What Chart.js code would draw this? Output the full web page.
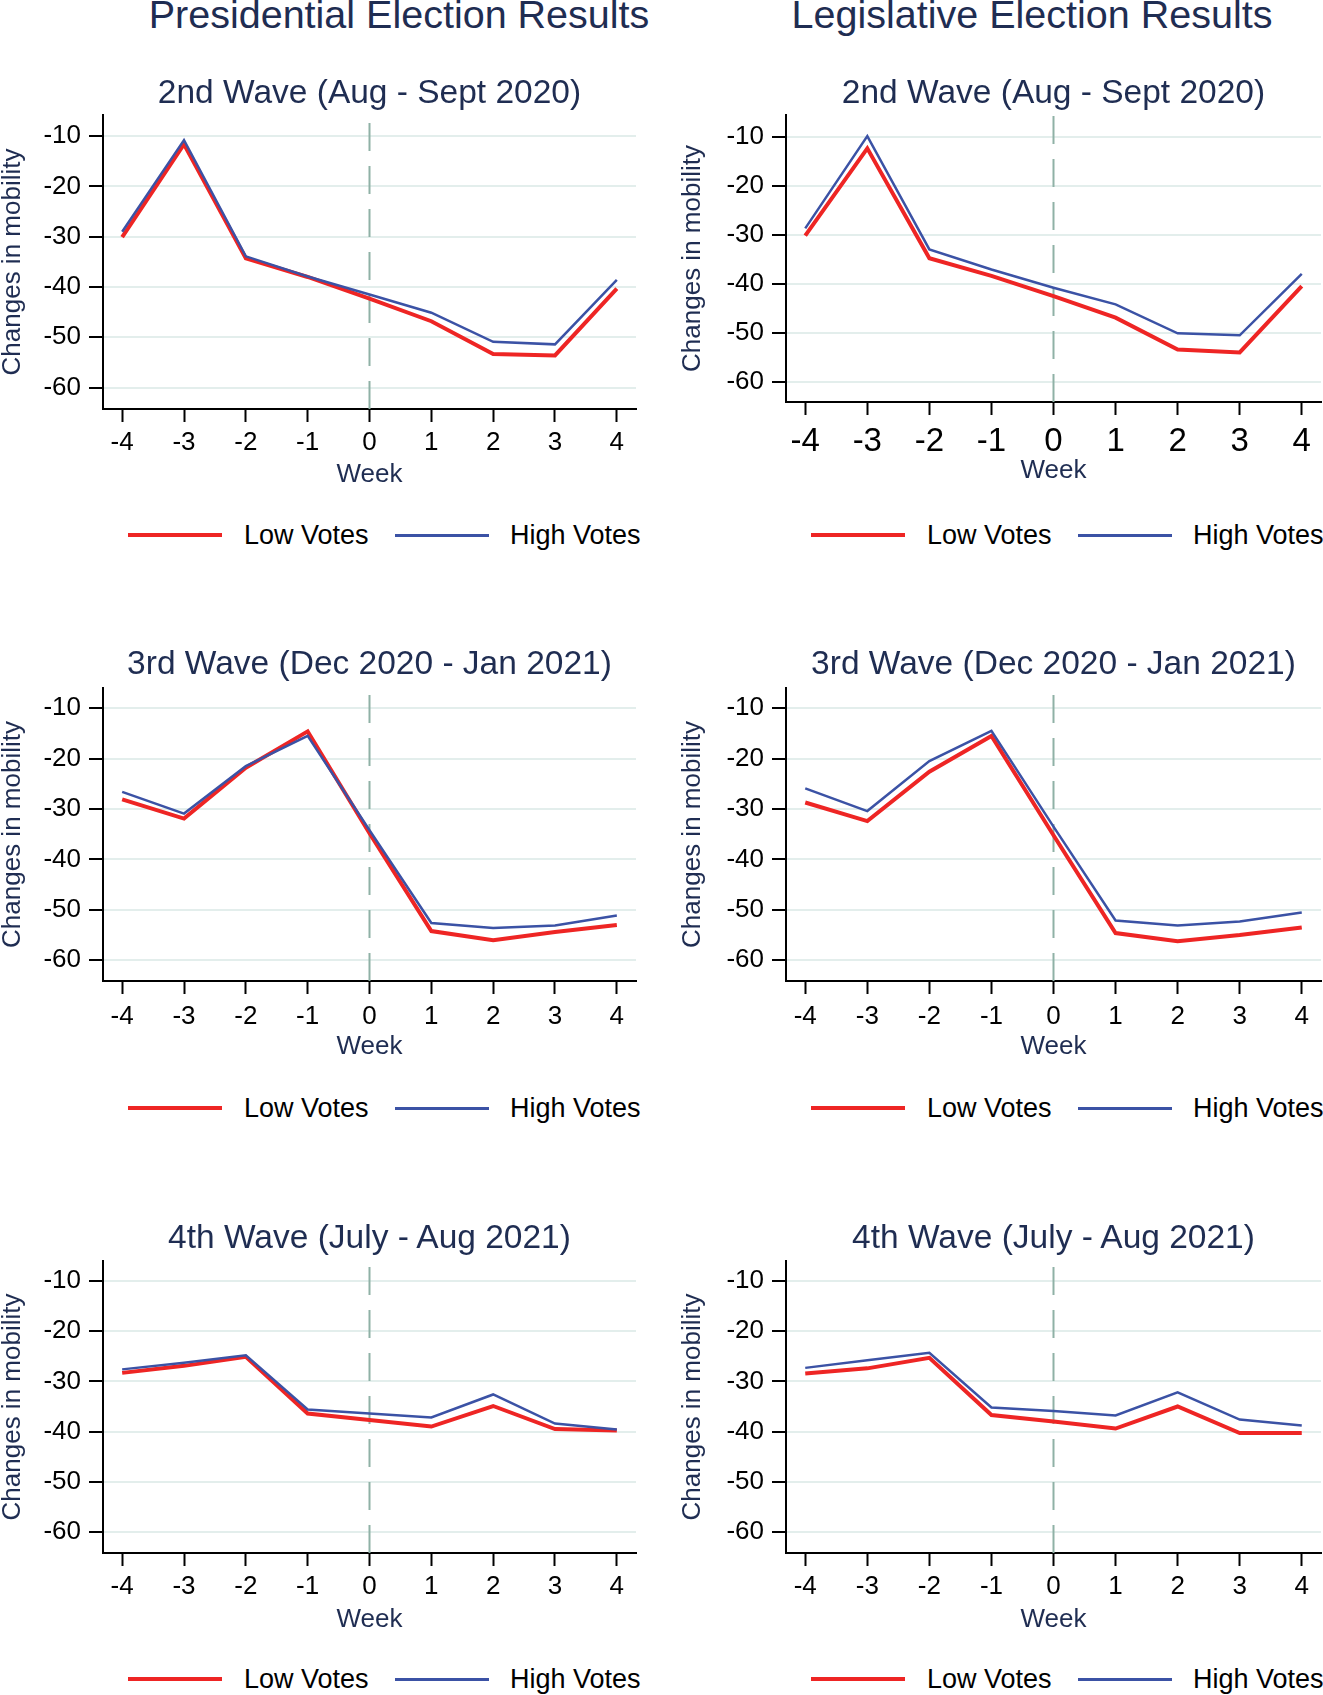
<!DOCTYPE html>
<html><head><meta charset="utf-8">
<script src="https://cdn.jsdelivr.net/npm/chart.js@4.4.1/dist/chart.umd.min.js"></script>
<style>
html,body{margin:0;padding:0;background:#fff;width:1323px;height:1695px;overflow:hidden;}
body{position:relative;font-family:"Liberation Sans",Arial,Helvetica,sans-serif;}
.t{position:absolute;white-space:nowrap;line-height:1;transform:translate(-50%,-50%);color:#1f2d52;z-index:2;}
.lt{position:absolute;white-space:nowrap;line-height:1;transform:translateY(-50%);font-size:27px;color:#000;z-index:2;}
.ll{position:absolute;z-index:2;}
canvas{position:absolute;z-index:1;}
</style></head><body>
<script>
// ---------- data ----------
const weeks = [-4, -3, -2, -1, 0, 1, 2, 3, 4];
const yTicks = [-60, -50, -40, -30, -20, -10];

const presW2Low  = [-30.1, -11.6, -34.3, -38.0, -42.3, -46.8, -53.3, -53.6, -40.3];
const presW2High = [-29.0, -10.8, -33.9, -37.9, -41.5, -45.1, -50.9, -51.4, -38.6];
const legW2Low   = [-30.2, -12.4, -34.8, -38.4, -42.5, -46.9, -53.4, -54.0, -40.5];
const legW2High  = [-28.7,  -9.9, -33.0, -37.1, -40.8, -44.2, -50.1, -50.5, -38.0];

const presW3Low  = [-28.1, -31.9, -21.8, -14.6, -34.8, -54.2, -56.0, -54.4, -53.0];
const presW3High = [-26.6, -30.9, -21.5, -15.5, -34.2, -52.6, -53.6, -53.1, -51.1];
const legW3Low   = [-28.7, -32.4, -22.6, -15.5, -35.2, -54.6, -56.2, -55.0, -53.5];
const legW3High  = [-25.9, -30.4, -20.5, -14.5, -33.5, -52.1, -53.1, -52.3, -50.5];

const presW4Low  = [-28.3, -26.9, -25.1, -36.4, -37.7, -39.0, -34.9, -39.5, -39.8];
const presW4High = [-27.6, -26.3, -24.8, -35.6, -36.4, -37.2, -32.6, -38.4, -39.6];
const legW4Low   = [-28.4, -27.4, -25.3, -36.7, -38.0, -39.4, -35.0, -40.3, -40.3];
const legW4High  = [-27.3, -25.8, -24.3, -35.2, -35.9, -36.8, -32.2, -37.6, -38.8];

const columnTitles = ["Presidential Election Results", "Legislative Election Results"];
const waveTitles = ["2nd Wave (Aug - Sept 2020)", "3rd Wave (Dec 2020 - Jan 2021)", "4th Wave (July - Aug 2021)"];
const seriesNames = ["Low Votes", "High Votes"];
const yAxisTitle = "Changes in mobility";
const xAxisTitle = "Week";

// ---------- styles / layout ----------
const FONT = '"Liberation Sans", Arial, Helvetica, sans-serif';
const RED = '#ee2524';
const BLUE = '#3b52a5';
const NAVY = '#1f2d52';
const GRID = '#e3eeec';
const DASH = '#8fb1a6';
const TOPPAD = 30;

const cols = [
  {x0: 0,   left: 103, right: 636,  titleX: 399,  yTitlePad: 0},
  {x0: 661, left: 786, right: 1321, titleX: 1032, yTitlePad: 19}
];
const rowLayouts = [
  [ {top:115, bottom:409, yMax:-5.8, yMin:-64.25, tickCenter:443, weekY:475, titleY:92, legendY:535, tickFont:26},
    {top:115, bottom:402, yMax:-5.6, yMin:-64.1,  tickCenter:442, weekY:471, titleY:92, legendY:535, tickFont:33} ],
  [ {top:688, bottom:981, yMax:-6.0, yMin:-64.1, tickCenter:1017, weekY:1047, titleY:663, legendY:1108, tickFont:26},
    {top:688, bottom:981, yMax:-6.0, yMin:-64.1, tickCenter:1017, weekY:1047, titleY:663, legendY:1108, tickFont:26} ],
  [ {top:1261, bottom:1553, yMax:-6.0, yMin:-64.2, tickCenter:1587, weekY:1620, titleY:1237, legendY:1679, tickFont:26},
    {top:1261, bottom:1553, yMax:-6.0, yMin:-64.2, tickCenter:1587, weekY:1620, titleY:1237, legendY:1679, tickFont:26} ]
];
const panelData = [
  [[presW2Low, presW2High], [legW2Low, legW2High]],
  [[presW3Low, presW3High], [legW3Low, legW3High]],
  [[presW4Low, presW4High], [legW4Low, legW4High]]
];

const zeroLine = {
  id: 'zeroLine',
  beforeDatasetsDraw(chart) {
    const x = chart.scales.x.getPixelForValue(0);
    const {top, bottom} = chart.chartArea;
    const ctx = chart.ctx;
    ctx.save();
    ctx.strokeStyle = DASH;
    ctx.lineWidth = 2;
    ctx.setLineDash([28, 15]);
    ctx.beginPath();
    ctx.moveTo(x, bottom);
    ctx.lineTo(x, top);
    ctx.stroke();
    ctx.restore();
  }
};

function addText(cls, txt, x, y, size, color) {
  const d = document.createElement('div');
  d.className = cls;
  d.textContent = txt;
  d.style.left = x + 'px';
  d.style.top = y + 'px';
  if (size) d.style.fontSize = size + 'px';
  if (color) d.style.color = color;
  document.body.appendChild(d);
}
function addLine(x, y, w, h, color) {
  const d = document.createElement('div');
  d.className = 'll';
  d.style.left = x + 'px';
  d.style.top = (y - h / 2) + 'px';
  d.style.width = w + 'px';
  d.style.height = h + 'px';
  d.style.background = color;
  document.body.appendChild(d);
}

function makePanel(ci, ri) {
  const C = cols[ci];
  const L = rowLayouts[ri][ci];
  const [low, high] = panelData[ri][ci];
  const ctop = Math.round(L.top) - TOPPAD;
  const cH = Math.round(L.weekY + 22) - ctop;
  const cW = 662;
  const canvas = document.createElement('canvas');
  canvas.width = cW; canvas.height = cH;
  canvas.style.left = C.x0 + 'px';
  canvas.style.top = ctop + 'px';
  canvas.style.width = cW + 'px';
  canvas.style.height = cH + 'px';
  document.body.appendChild(canvas);

  const yW = C.left - C.x0;
  const xH = cH - (L.bottom - ctop);
  const xPad = (L.tickCenter - L.bottom) - 13 - L.tickFont * 0.6;
  const weekPadBottom = cH - 13 - (L.weekY - ctop);

  new Chart(canvas, {
    type: 'line',
    data: {
      datasets: [
        {label: seriesNames[0], data: weeks.map((w, i) => ({x: w, y: low[i]})),
         borderColor: RED, backgroundColor: RED, borderWidth: 4, pointRadius: 0, tension: 0, order: 1},
        {label: seriesNames[1], data: weeks.map((w, i) => ({x: w, y: high[i]})),
         borderColor: BLUE, backgroundColor: BLUE, borderWidth: 2.5, pointRadius: 0, tension: 0, order: 0}
      ]
    },
    options: {
      responsive: false, animation: false, devicePixelRatio: 1,
      layout: {padding: {left: 0, right: C.x0 + cW - C.right, top: TOPPAD, bottom: 0}},
      plugins: {legend: {display: false}, tooltip: {enabled: false}, title: {display: false}},
      scales: {
        x: {
          type: 'linear', min: -4.31, max: 4.31,
          afterBuildTicks: s => { s.ticks = weeks.map(v => ({value: v})); },
          afterFit: s => { s.height = xH; },
          ticks: {callback: v => String(v), font: {family: FONT, size: L.tickFont}, color: '#000',
                  padding: xPad, maxRotation: 0, minRotation: 0, autoSkip: false},
          grid: {drawOnChartArea: false, drawTicks: true, tickLength: 13, tickColor: '#000', tickWidth: 2, color: '#000'},
          border: {display: true, color: '#000', width: 2},
          title: {display: true, text: xAxisTitle, color: NAVY,
                  font: {family: FONT, size: 26, lineHeight: 1}, padding: {top: 0, bottom: weekPadBottom}}
        },
        y: {
          type: 'linear', min: L.yMin, max: L.yMax,
          afterBuildTicks: s => { s.ticks = yTicks.map(v => ({value: v})); },
          afterFit: s => { s.width = yW; },
          ticks: {callback: v => String(v), font: {family: FONT, size: 26}, color: '#000', padding: 8},
          grid: {drawOnChartArea: true, color: GRID, lineWidth: 2, drawTicks: true, tickLength: 14, tickColor: '#000', tickWidth: 2},
          border: {display: true, color: '#000', width: 2},
          title: {display: true, text: yAxisTitle, color: NAVY,
                  font: {family: FONT, size: 26, lineHeight: 1}, padding: {top: C.yTitlePad, bottom: 0}}
        }
      }
    },
    plugins: [zeroLine]
  });

  // panel title
  addText('t', waveTitles[ri], (C.left + C.right) / 2, L.titleY, 33.5, NAVY);
  // legend
  addLine(C.left + 25, L.legendY, 94, 4, RED);
  addText('lt', seriesNames[0], C.left + 141, L.legendY);
  addLine(C.left + 292, L.legendY, 94, 3, BLUE);
  addText('lt', seriesNames[1], C.left + 407, L.legendY);
}

addText('t', columnTitles[0], cols[0].titleX, 15, 39.5, NAVY);
addText('t', columnTitles[1], cols[1].titleX, 15, 39.5, NAVY);
for (let r = 0; r < 3; r++) for (let c = 0; c < 2; c++) makePanel(c, r);
</script>
</body></html>
